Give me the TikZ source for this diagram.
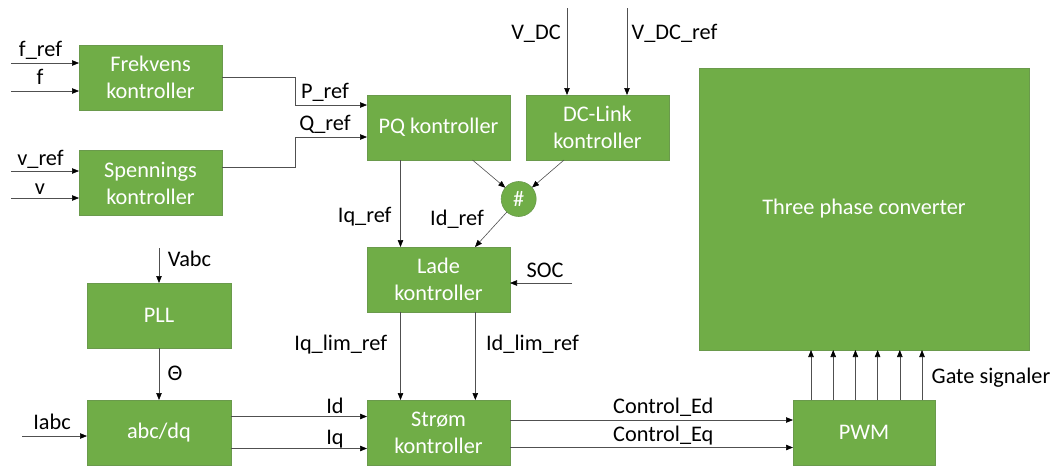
\documentclass[tikz,border=0pt]{standalone}
\usepackage{fontspec}
\setmainfont{Carlito}
\usetikzlibrary{arrows.meta}

\definecolor{boxgreen}{HTML}{70AD47}
\definecolor{boxedge}{HTML}{6A9A4C}
\definecolor{linegray}{HTML}{505050}

\begin{document}
\begin{tikzpicture}[x=1pt,y=-1pt,font=\fontsize{22.3}{27}\selectfont,
  blok/.style={draw=boxedge,fill=boxgreen,text=white,align=center,
    minimum width=143pt,minimum height=65pt,inner sep=0pt,outer sep=0pt,line width=0.6pt},
  sig/.style={draw=linegray,line width=0.6pt,-{Triangle[length=7pt,width=5.5pt,color=black]}},
  lbl/.style={anchor=base,inner sep=0pt}]
\useasboundingbox (0,0) rectangle (1057,466);

% blokker
  \node[blok] (frek)  at (150.5,77.5) {Frekvens\\kontroller};
  \node[blok] (spen)  at (150.5,183)  {Spennings\\kontroller};
  \node[blok] (pq)    at (438.5,127.5) {PQ kontroller};
  \node[blok] (dcl)   at (597.5,127.5) {DC-Link\\kontroller};
  \node[blok] (lade)  at (438.5,279.5) {Lade\\kontroller};
  \node[blok] (strom) at (438.5,432.5) {Strøm\\kontroller};
  \node[blok,minimum width=144pt] (pll) at (159,315.5) {PLL};
  \node[blok,minimum width=144pt] (abc) at (159,432.5) {abc/dq};
  \node[blok,minimum width=142pt] (pwm) at (864,432.5) {PWM};
  \node[blok,minimum width=330pt,minimum height=282pt] (conv) at (864,209) {Three phase converter};
  \node[blok,circle,minimum width=35pt,minimum height=35pt] (hash) at (518.7,199) {\#};

% frie ender
  \coordinate (fref)  at (11,63);
  \coordinate (fin)   at (11,91);
  \coordinate (vref)  at (11,171);
  \coordinate (vin)   at (11,198);
  \coordinate (pbend) at (295,105);
  \coordinate (qbend) at (295,137);
  \coordinate (vdc)   at (567,8);
  \coordinate (vdcref) at (627,8);
  \coordinate (soc)   at (572,283);
  \coordinate (vabc)  at (159,248);
  \coordinate (iabc)  at (22,436);

% signaler
  \draw[sig] (fref) -- (frek.west |- fref);
  \draw[sig] (fin) -- (frek.west |- fin);
  \draw[sig] (vref) -- (spen.west |- vref);
  \draw[sig] (vin) -- (spen.west |- vin);
  \draw[sig] (frek.east) -| (pbend) -- (pq.west |- pbend);
  \draw[sig] ([yshift=16pt]spen.east) -| (qbend) -- (pq.west |- qbend);
  \draw[sig] (vdc) -- (vdc |- dcl.north);
  \draw[sig] (vdcref) -- (vdcref |- dcl.north);
  \draw[sig] ([xshift=34pt]pq.south) -- (hash);
  \draw[sig] ([xshift=-33.5pt]dcl.south) -- (hash);
  \draw[sig] (hash) -- ([xshift=36.5pt]lade.north);
  \draw[sig] ([xshift=-38pt]pq.south) -- ([xshift=-38pt]lade.north);
  \draw[sig] (soc) -- (lade.east |- soc);
  \draw[sig] ([xshift=-38pt]lade.south) -- ([xshift=-38pt]strom.north);
  \draw[sig] ([xshift=36.8pt]lade.south) -- ([xshift=36.8pt]strom.north);
  \draw[sig] (vabc) -- (pll);
  \draw[sig] (pll) -- (abc);
  \draw[sig] (iabc) -- (abc.west |- iabc);
  \draw[sig] ([yshift=16pt]abc.east) -- ([yshift=16pt]strom.west);
  \draw[sig] ([yshift=-16pt]abc.east) -- ([yshift=-16pt]strom.west);
  \draw[sig] ([yshift=12.5pt]strom.east) -- ([yshift=12.5pt]pwm.west);
  \draw[sig] ([yshift=-15pt]strom.east) -- ([yshift=-15pt]pwm.west);
  \foreach \g in {0,...,5}
    \draw[sig] ([xshift=-53pt+\g*22.2pt]pwm.north) -- ([xshift=-53pt+\g*22.2pt]pwm.north |- conv.south);

% tekster
  \node[lbl] (tfref) at (40.5,56) {f\_ref};
  \node[lbl] (tf)    at (40,84)   {f};
  \node[lbl] (tvref) at (40.5,165) {v\_ref};
  \node[lbl] (tv)    at (40,194)  {v};
  \node[lbl] (tpref) at (325,98)  {P\_ref};
  \node[lbl] (tqref) at (325,130) {Q\_ref};
  \node[lbl] (tvdc)  at (536,39)  {V\_DC};
  \node[lbl] (tvdcref) at (674.5,39) {V\_DC\_ref};
  \node[lbl] (tiqref) at (364.7,222) {Iq\_ref};
  \node[lbl] (tidref) at (457,225) {Id\_ref};
  \node[lbl] (tsoc)  at (545,277) {SOC};
  \node[lbl] (tiqlim) at (340.8,350) {Iq\_lim\_ref};
  \node[lbl] (tidlim) at (532.5,350) {Id\_lim\_ref};
  \node[lbl] (tvabc) at (189.5,266) {Vabc};
  \node[lbl] (ttheta) at (175,380) {Θ};
  \node[lbl] (tiabc) at (52,429)  {Iabc};
  \node[lbl] (tid)   at (335,413) {Id};
  \node[lbl] (tiq)   at (335,444) {Iq};
  \node[lbl] (tced)  at (663.3,413) {Control\_Ed};
  \node[lbl] (tceq)  at (663.3,441) {Control\_Eq};
  \node[lbl] (tgate) at (991,383) {Gate signaler};
\end{tikzpicture}
\end{document}
